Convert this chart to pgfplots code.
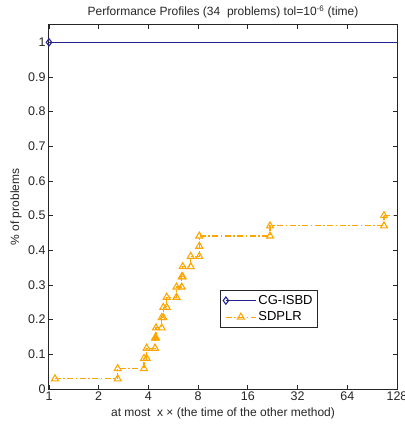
\documentclass[border=0pt]{standalone}
\usepackage{pgfplots}
\pgfplotsset{compat=1.18}
\usepackage{fontspec}
\setmainfont{Liberation Sans}
\definecolor{cgblue}{RGB}{35,35,150}
\definecolor{sdorange}{RGB}{255,165,0}

% SDPLR profile: corners of the staircase (k/34 steps)
\pgfplotstableread{
x y
1.087 0.0294
2.606 0.0294
2.606 0.0588
3.761 0.0588
3.761 0.0882
3.905 0.0882
3.905 0.1176
4.384 0.1176
4.384 0.1471
4.446 0.1471
4.446 0.1765
4.814 0.1765
4.814 0.2059
4.922 0.2059
4.922 0.2353
5.161 0.2353
5.161 0.2647
5.917 0.2647
5.917 0.2941
6.361 0.2941
6.361 0.3235
6.452 0.3235
6.452 0.3529
7.213 0.3529
7.213 0.3824
8.13 0.3824
8.13 0.4118
8.13 0.4412
21.8 0.4412
21.8 0.4706
106.8 0.4706
106.8 0.5
}\sdplr

\begin{document}
\begin{tikzpicture}
\begin{axis}[
  at={(0,0)}, anchor=south west,
  scale only axis, width=348pt, height=364pt,
  xmode=log, log basis x=2, xmin=1, xmax=128,
  ymin=0, ymax=1.05,
  xtick={1,2,4,8,16,32,64,128}, xticklabels={1,2,4,8,16,32,64,128},
  ytick={0,0.1,0.2,0.3,0.4,0.5,0.6,0.7,0.8,0.9,1},
  yticklabels={0,0.1,0.2,0.3,0.4,0.5,0.6,0.7,0.8,0.9,1},
  tick align=inside, major tick length=4pt,
  axis line style={black!85, line width=1pt},
  every tick/.style={black!85, line width=0.9pt},
  tick label style={font=\fontsize{12.5}{14}\selectfont, text=black!85},
  xticklabel style={yshift=1pt},
  title={Performance Profiles (34\ \ problems) tol=10\textsuperscript{-6} (time)},
  every axis title/.style={at={(axis description cs:0.5,1.036)}, anchor=center, font=\fontsize{12}{14}\selectfont, text=black!85},
  xlabel={at most\ \ x × (the time of the other method)},
  every axis x label/.style={at={(axis description cs:0.5,-0.068)}, anchor=center, font=\fontsize{12}{14}\selectfont, text=black!85},
  ylabel={\% of problems},
  every axis y label/.style={at={(axis description cs:-0.095,0.5)}, rotate=90, anchor=center, font=\fontsize{12}{14}\selectfont, text=black!85},
  legend style={at={(axis description cs:0.773,0.168)}, anchor=south east,
    font=\fontsize{13}{15}\selectfont, draw=black!85, line width=0.8pt,
    inner xsep=3pt, inner ysep=3pt, row sep=2pt},
  legend cell align=left,
  legend image code/.code={\draw[mark repeat=2,mark phase=2] plot coordinates {(0pt,0pt) (15pt,0pt) (30pt,0pt)};},
]
\addplot[cgblue, line width=1.1pt, mark=diamond, mark size=3.6pt, mark indices={1}] coordinates {(1,1) (128,1)};
\addlegendentry{CG-ISBD}
\addplot[sdorange, line width=1.1pt, dash pattern=on 6pt off 2.5pt on 1.5pt off 2.5pt, mark=triangle, mark size=4pt, mark options={solid, line width=1.1pt}] table {\sdplr};
\addlegendentry{SDPLR}
\addplot[sdorange, line width=1.1pt, dash pattern=on 6pt off 2.5pt on 1.5pt off 2.5pt, forget plot] coordinates {(106.8,0.5) (128,0.5)};
\end{axis}
\pgfresetboundingbox
\path (-49pt,-39pt) rectangle (355pt,389pt);
\end{tikzpicture}
\end{document}
